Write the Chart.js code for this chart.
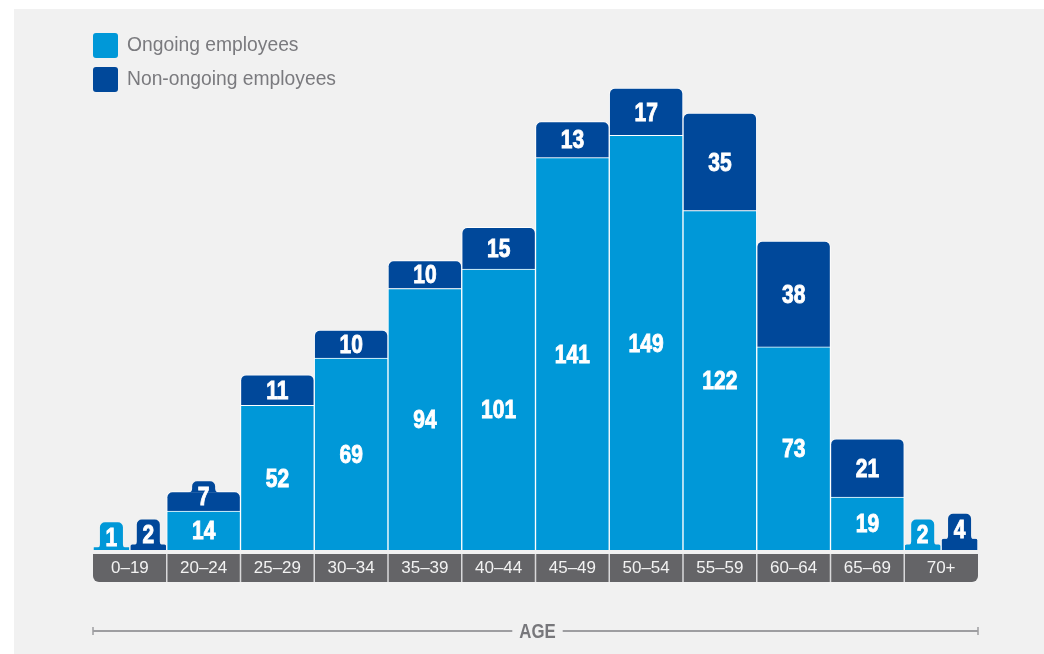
<!DOCTYPE html>
<html>
<head>
<meta charset="utf-8">
<title>Employees by age</title>
<script src="https://cdn.jsdelivr.net/npm/chart.js@4.4.1/dist/chart.umd.min.js"></script>
<style>
  html, body { margin: 0; padding: 0; background: #fff; }
  #wrap { position: relative; width: 1044px; height: 654px; }
  #chart { position: absolute; left: 0; top: 0; }
  .legend {
    position: absolute; left: 93px; top: 32px;
    font-family: "Liberation Sans", Arial, sans-serif;
    font-size: 19.3px; color: #7a7a7e;
  }
  .legend .item { display: flex; align-items: center; height: 26px; margin-bottom: 8px; }
  .legend .sw { width: 25px; height: 25px; border-radius: 3px; margin-right: 9px; }
</style>
</head>
<body>
<div id="wrap">
  <canvas id="chart" width="1044" height="654"></canvas>
  <div class="legend" id="legend"></div>
</div>
<script>
// ---- data ----
const ageGroups = ['0–19', '20–24', '25–29', '30–34', '35–39', '40–44', '45–49', '50–54', '55–59', '60–64', '65–69', '70+'];
const ongoing    = [null, 14, 52, 69, 94, 101, 141, 149, 122, 73, 19, null];
const nonOngoing = [null,  7, 11, 10, 10,  15,  13,  17,  35, 38, 21, null];
// the youngest and oldest groups are shown as two bars side by side
const ongoingEnds    = [1, null, null, null, null, null, null, null, null, null, null, 2];
const nonOngoingEnds = [2, null, null, null, null, null, null, null, null, null, null, 4];
const seriesNames = ['Ongoing employees', 'Non-ongoing employees'];
const axisTitle = 'AGE';

const LIGHT = '#0098d8';
const DARK = '#00489a';
const SANS = '"Liberation Sans", Arial, sans-serif';
const SQUEEZE = 0.84; // fake a condensed bold face

// html legend (top left, stacked vertically)
const legendEl = document.getElementById('legend');
[LIGHT, DARK].forEach((c, i) => {
  const row = document.createElement('div');
  row.className = 'item';
  row.innerHTML = `<span class="sw" style="background:${c}"></span><span>${seriesNames[i]}</span>`;
  legendEl.appendChild(row);
});

function narrowText(ctx, text, x, y, size, heavy) {
  ctx.save();
  ctx.font = `bold ${size}px ${SANS}`;
  ctx.textAlign = 'center';
  ctx.textBaseline = 'middle';
  ctx.translate(x, y);
  ctx.scale(SQUEEZE, 1);
  ctx.fillText(text, 0, 0);
  if (heavy) {
    ctx.strokeStyle = ctx.fillStyle;
    ctx.lineWidth = 0.9;
    ctx.strokeText(text, 0, 0);
  }
  ctx.restore();
}

// small tab that carries the number when a segment is too short
function drawTab(ctx, cx, barTop, tabTop, color) {
  const w = 23, r = 5, f = 4;
  const l = cx - w / 2, rt = cx + w / 2;
  ctx.fillStyle = color;
  ctx.beginPath();
  ctx.moveTo(l - f, barTop + 1);
  ctx.quadraticCurveTo(l, barTop + 1, l, barTop - f + 1);
  ctx.lineTo(l, tabTop + r);
  ctx.arcTo(l, tabTop, l + r, tabTop, r);
  ctx.lineTo(rt - r, tabTop);
  ctx.arcTo(rt, tabTop, rt, tabTop + r, r);
  ctx.lineTo(rt, barTop - f + 1);
  ctx.quadraticCurveTo(rt, barTop + 1, rt + f, barTop + 1);
  ctx.closePath();
  ctx.fill();
}

// background panel + grey strip behind the age labels
const panel = {
  id: 'panel',
  beforeDraw(chart) {
    const { ctx, chartArea: a, scales: { x } } = chart;
    ctx.save();
    ctx.fillStyle = '#ffffff';
    ctx.fillRect(0, 0, chart.width, chart.height);
    ctx.fillStyle = '#f1f1f1';
    ctx.fillRect(14, 9, chart.width - 14, chart.height - 9);

    const top = a.bottom + 4, bottom = a.bottom + 32, r = 6;
    ctx.fillStyle = '#646467';
    ctx.beginPath();
    ctx.moveTo(a.left, top);
    ctx.lineTo(a.right, top);
    ctx.lineTo(a.right, bottom - r);
    ctx.arcTo(a.right, bottom, a.right - r, bottom, r);
    ctx.lineTo(a.left + r, bottom);
    ctx.arcTo(a.left, bottom, a.left, bottom - r, r);
    ctx.closePath();
    ctx.fill();

    ctx.strokeStyle = '#d9d9db';
    ctx.lineWidth = 1.5;
    ctx.beginPath();
    for (let i = 1; i < ageGroups.length; i++) {
      const px = (x.getPixelForTick(i - 1) + x.getPixelForTick(i)) / 2;
      ctx.moveTo(px, top);
      ctx.lineTo(px, bottom);
    }
    ctx.stroke();
    ctx.restore();
  }
};

// white numbers inside (or on tabs above) the bars
const valueLabels = {
  id: 'valueLabels',
  afterDatasetsDraw(chart) {
    const ctx = chart.ctx;
    ctx.save();
    chart.data.datasets.forEach((ds, di) => {
      chart.getDatasetMeta(di).data.forEach((bar, i) => {
        const v = ds.data[i];
        if (v == null) return;
        const top = bar.y, base = bar.base;
        const h = base - top;
        let cy;
        if (h >= 24) {
          cy = (top + base) / 2;
        } else {
          cy = h > 14 ? (top + base) / 2 - 5 : top - 10;
          drawTab(ctx, bar.x, top, cy - 15, ds.backgroundColor);
        }
        ctx.fillStyle = '#ffffff';
        narrowText(ctx, String(v), bar.x, cy + 2, 25, true);
      });
    });
    ctx.restore();
  }
};

// AGE rule under the chart
const ageAxis = {
  id: 'ageAxis',
  afterDraw(chart) {
    const { ctx, chartArea: a } = chart;
    const y = 631, cx = (a.left + a.right) / 2 + 2;
    ctx.save();
    ctx.font = `bold 20px ${SANS}`;
    const w = ctx.measureText(axisTitle).width * SQUEEZE;
    ctx.strokeStyle = '#9e9ea1';
    ctx.lineWidth = 2;
    ctx.beginPath();
    ctx.moveTo(a.left, y); ctx.lineTo(cx - w / 2 - 7, y);
    ctx.moveTo(cx + w / 2 + 7, y); ctx.lineTo(a.right, y);
    ctx.stroke();
    ctx.lineWidth = 1.5;
    ctx.beginPath();
    ctx.moveTo(a.left, y - 4); ctx.lineTo(a.left, y + 4);
    ctx.moveTo(a.right, y - 4); ctx.lineTo(a.right, y + 4);
    ctx.stroke();
    ctx.fillStyle = '#77777b';
    narrowText(ctx, axisTitle, cx, y + 1, 20, false);
    ctx.restore();
  }
};

const common = {
  barPercentage: 1,
  categoryPercentage: 1,
  borderColor: '#ffffff',
  skipNull: true
};

new Chart(document.getElementById('chart'), {
  type: 'bar',
  data: {
    labels: ageGroups,
    datasets: [
      { ...common, label: seriesNames[0], data: ongoing, stack: 'main', backgroundColor: LIGHT, borderWidth: 1, borderRadius: 6 },
      { ...common, label: seriesNames[1], data: nonOngoing, stack: 'main', backgroundColor: DARK, borderWidth: 1, borderRadius: 6 },
      { ...common, label: seriesNames[0], data: ongoingEnds, stack: 'endA', backgroundColor: LIGHT, borderWidth: { left: 1, right: 1, top: 0, bottom: 0 }, borderRadius: 3 },
      { ...common, label: seriesNames[1], data: nonOngoingEnds, stack: 'endB', backgroundColor: DARK, borderWidth: { left: 1, right: 1, top: 0, bottom: 0 }, borderRadius: 3 }
    ]
  },
  options: {
    responsive: false,
    animation: false,
    layout: { padding: { left: 93, right: 66, top: 77, bottom: 0 } },
    plugins: {
      legend: { display: false },
      tooltip: { enabled: false }
    },
    scales: {
      x: {
        stacked: true,
        grid: { display: false, drawTicks: false },
        border: { display: false },
        ticks: {
          color: '#f2f2f2',
          font: { family: SANS, size: 17 },
          padding: 8
        },
        afterFit: s => { s.height = 104; }
      },
      y: {
        stacked: true,
        display: false,
        min: 0,
        max: 170
      }
    }
  },
  plugins: [panel, valueLabels, ageAxis]
});
</script>
</body>
</html>
